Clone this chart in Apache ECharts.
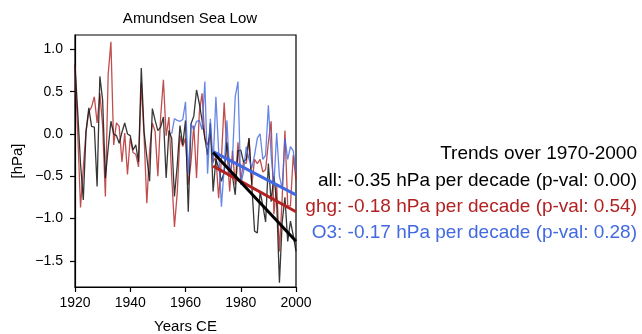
<!DOCTYPE html>
<html>
<head>
<meta charset="utf-8">
<script src="https://cdn.jsdelivr.net/npm/echarts@6/dist/echarts.min.js"></script>
<style>
  html, body { margin: 0; padding: 0; background: #fff; }
  #chart { width: 642px; height: 334px; }
</style>
</head>
<body>
<div id="chart"></div>
<script>
// Years and series (hPa anomalies)
const years = [];
for (let y = 1920; y <= 2000; y++) years.push(y);

const allVals = [
  0.82, 0.25, -0.35, -0.78, 0.03, 0.31, 0.09, 0.08, -0.62, 0.68,
  0.40, -0.52, -0.17, 0.15, 0.00, -0.02, -0.11, 0.02, 0.13, 0.00,
  -0.02, -0.19, -0.13, -0.33, 0.78, 0.03, -0.27, -0.56, 0.30, 0.16,
  0.04, 0.08, 0.20, -0.52, 0.04, -0.05, -0.74, -0.37, 0.10, -0.13,
  0.16, -0.92, 0.12, 0.21, 0.52, 0.36, 0.16, -0.05, -0.25, 0.13,
  -0.68, -0.30, -0.40, -0.56, -0.45, -0.10, -0.40, -0.50, -0.72, -0.20,
  -0.19, -0.33, -0.30, -0.05, -0.60, -1.15, -1.17, -0.68, -0.85, -1.04,
  -0.35, -0.80, -0.50, -0.80, -1.76, -1.04, -0.75, -1.27, -1.03, -1.20,
  -1.39
];
const ghgVals = [
  0.80, 0.00, -0.87, -0.40, 0.03, 0.26, 0.32, 0.44, 0.13, 0.48,
  0.10, -0.74, 0.70, 1.09, -0.13, 0.13, 0.09, -0.33, 0.01, -0.48,
  -0.05, -0.22, -0.24, -0.39, 0.60, -0.02, -0.82, -0.20, 0.13, 0.03,
  -0.50, 0.20, 0.64, -0.02, 0.20, -0.50, -1.10, -0.70, -0.02, -0.15,
  -0.05, -0.60, -0.33, 0.10, -0.52, 0.25, 0.48, -0.05, -0.13, 0.00,
  -0.33, -0.27, -0.76, -0.30, 0.37, -0.20, -0.68, -0.20, -0.60, -0.10,
  -0.55, -0.33, -0.35, -0.05, -0.60, -0.30, -0.35, -0.30, -0.45, -0.42,
  -0.10, 0.15, -0.95, -0.60, -1.39, -0.75, 0.04, -0.85, -0.85, -0.25,
  -0.55
];
const o3Years = years.filter(y => y >= 1955);
const o3Vals = [
  0.00, 0.18, 0.16, 0.15, 0.17,
  0.38, -0.47, 0.12, 0.05, 0.15, 0.16, 0.05, 0.62, -0.47, 0.18,
  -0.35, 0.44, -0.20, -0.86, -0.40, 0.16, -0.50, -0.30, 0.44, 0.62,
  -0.60, -0.45, -0.15, -0.30, -0.40, -0.25, -0.05, 0.00, -0.30, -0.25,
  0.34, -0.25, -0.60, 0.01, -0.50, -0.65, -0.05, -0.30, -0.15, -0.20,
  -0.45
];

// Trend lines 1970-2000: start value and slope (hPa per decade)
const trendYears = [1970, 2000];
const trendStart = [-0.22, -0.38, -0.21];
const trendSlope = [-0.35, -0.18, -0.17];
const trendPval = ['0.00', '0.54', '0.28'];
const trendNames = ['all', 'ghg', 'O3'];

const yTicks = [-1.5, -1.0, -0.5, 0.0, 0.5, 1.0];

const lineColors = ['rgba(20,20,20,0.85)', 'rgba(178,34,34,0.8)', 'rgba(65,105,225,0.8)'];
const trendColors = ['#000000', '#b22222', '#4169e1'];
const font = 'Liberation Sans, Arial, sans-serif';

function pairs(xs, vs) { return xs.map((x, i) => [x, vs[i]]); }
function trendLine(i) {
  return trendYears.map(y => [y, trendStart[i] + trendSlope[i] * (y - trendYears[0]) / 10]);
}
const minus = v => v.toFixed(1).replace('-', '\u2212');

const chart = echarts.init(document.getElementById('chart'), null, { renderer: 'canvas' });

const option = {
  animation: false,
  backgroundColor: '#fff',
  textStyle: { fontFamily: font },
  title: {
    text: 'Amundsen Sea Low',
    left: 185, top: 6, textAlign: 'center',
    textStyle: { fontSize: 15, fontWeight: 'normal', color: '#000', fontFamily: font }
  },
  grid: {
    left: 75, right: 346, top: 35, bottom: 47,
    outerBoundsMode: 'none',
    show: true, borderColor: '#000', borderWidth: 1.2, backgroundColor: 'transparent'
  },
  xAxis: {
    type: 'value', min: 1920, max: 2000, interval: 20,
    name: 'Years CE', nameLocation: 'middle', nameGap: 32,
    nameTextStyle: { fontSize: 15, color: '#000', fontFamily: font },
    axisLine: { show: true, onZero: false, lineStyle: { color: '#000', width: 1.2 } },
    axisTick: { show: true, inside: false, length: 5, lineStyle: { color: '#000', width: 1.2 } },
    axisLabel: { fontSize: 14, color: '#000', margin: 9, formatter: v => String(v) },
    splitLine: { show: false }
  },
  yAxis: {
    type: 'value', min: -1.81, max: 1.17,
    name: '[hPa]', nameLocation: 'middle', nameGap: 50, nameRotate: 90,
    nameTextStyle: { fontSize: 15, color: '#000', fontFamily: font },
    axisLine: { show: true, onZero: false, lineStyle: { color: '#000', width: 1.2 } },
    axisTick: { show: true, length: 5, customValues: yTicks, lineStyle: { color: '#000', width: 1.2 } },
    axisLabel: { fontSize: 14, color: '#000', margin: 12, customValues: yTicks, formatter: v => minus(v) },
    splitLine: { show: false }
  },
  series: [
    { type: 'line', data: pairs(years, ghgVals), showSymbol: false, z: 2,
      lineStyle: { color: lineColors[1], width: 1.3 } },
    { type: 'line', data: pairs(years, allVals), showSymbol: false, z: 3,
      lineStyle: { color: lineColors[0], width: 1.3 } },
    { type: 'line', data: pairs(o3Years, o3Vals), showSymbol: false, z: 4,
      lineStyle: { color: lineColors[2], width: 1.3 } },
    { type: 'line', data: trendLine(2), showSymbol: false, z: 5,
      lineStyle: { color: trendColors[2], width: 3 } },
    { type: 'line', data: trendLine(1), showSymbol: false, z: 5,
      lineStyle: { color: trendColors[1], width: 3 } },
    { type: 'line', data: trendLine(0), showSymbol: false, z: 6,
      lineStyle: { color: trendColors[0], width: 3 } }
  ],
  graphic: [
    { type: 'text', right: 5, top: 144,
      style: { text: 'Trends over 1970-2000', fill: '#000', fontSize: 19, fontFamily: font, textAlign: 'right' } }
  ].concat(trendNames.map((n, i) => ({
    type: 'text', right: 5, top: 171 + i * 26.3,
    style: {
      text: n + ': ' + trendSlope[i].toFixed(2) + ' hPa per decade (p-val: ' + trendPval[i] + ')',
      fill: trendColors[i], fontSize: 19, fontFamily: font, textAlign: 'right'
    }
  })))
};

chart.setOption(option);
</script>
</body>
</html>
